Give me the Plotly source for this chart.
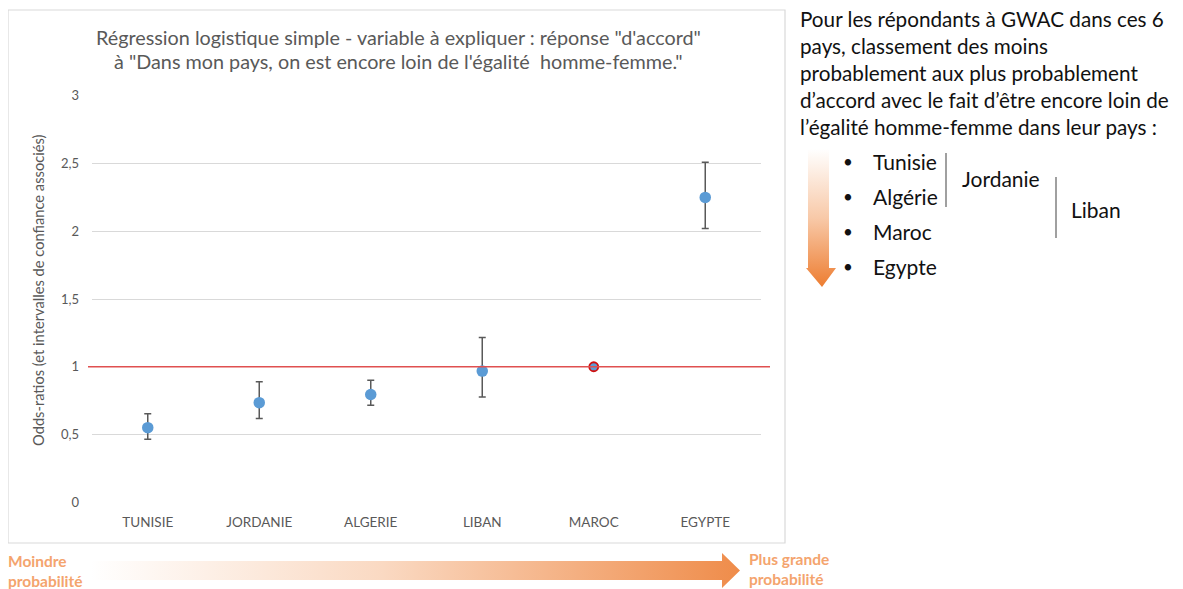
import base64
import plotly.graph_objects as go

# ---- data ----
categories = ["TUNISIE", "JORDANIE", "ALGERIE", "LIBAN", "MAROC", "EGYPTE"]
odds_ratio = [0.55, 0.735, 0.795, 0.968, 1.0, 2.25]
ci_low = [0.465, 0.617, 0.715, 0.776, None, 2.02]
ci_high = [0.653, 0.889, 0.900, 1.215, None, 2.51]
reference_cat = "MAROC"
y_tickvals = [0, 0.5, 1, 1.5, 2, 2.5, 3]
y_ticktext = ["0", "0,5", "1", "1,5", "2", "2,5", "3"]
ranking = ["Tunisie", "Algérie", "Maroc", "Egypte"]
explain_lines = [
    "Pour les répondants à GWAC dans ces 6",
    "pays, classement des moins",
    "probablement aux plus probablement",
    "d’accord avec le fait d’être encore loin de",
    "l’égalité homme-femme dans leur pays :",
]
title_lines = [
    "Régression logistique simple - variable à expliquer : réponse \"d'accord\"",
    "à \"Dans mon pays, on est encore loin de l'égalité  homme-femme.\"",
]

# ---- geometry helpers (window pixel -> paper); page body has an 8px margin ----
OFF = 8
W, H = 1183 - OFF, 589 - OFF
L, R, T, B = 92, 761, 95, 503
def px(x):
    return (x - L) / (R - L)
def py(y):
    return (B - y) / (B - T)

FONT = "Lato"
GRAY = "#595959"
BLUE = "#5B9BD5"
INK = "#111111"

fig = go.Figure()

main_idx = [i for i, c in enumerate(categories) if c != reference_cat]
fig.add_trace(go.Scatter(
    x=[categories[i] for i in main_idx],
    y=[odds_ratio[i] for i in main_idx],
    mode="markers",
    marker=dict(color=BLUE, size=11.5),
    error_y=dict(type="data", symmetric=False,
                 array=[ci_high[i] - odds_ratio[i] for i in main_idx],
                 arrayminus=[odds_ratio[i] - ci_low[i] for i in main_idx],
                 color=GRAY, thickness=1.5, width=3.5),
    showlegend=False, hoverinfo="x+y",
))
ref_i = categories.index(reference_cat)
fig.add_trace(go.Scatter(
    x=[categories[ref_i]], y=[odds_ratio[ref_i]], mode="markers",
    marker=dict(color=BLUE, size=9, line=dict(color="#D01010", width=1.8)),
    showlegend=False,
))

# reference line at OR = 1
fig.add_shape(type="line", xref="paper", yref="y", x0=px(88), x1=px(770), y0=1, y1=1,
              line=dict(color="#E05050", width=1.3), layer="above")

# chart border
fig.add_shape(type="rect", xref="paper", yref="paper",
              x0=px(8), x1=px(785), y0=py(543), y1=py(10),
              line=dict(color="#D9D9D9", width=1.2))

# title
for i, t in enumerate(title_lines):
    fig.add_annotation(xref="paper", yref="paper", x=px(398), y=py(37 + i * 24),
                       text=t, showarrow=False, xanchor="center", yanchor="middle",
                       font=dict(family=FONT, size=19.8, color=GRAY))

# y axis title
fig.add_annotation(xref="paper", yref="paper", x=px(38), y=py(290),
                   text="Odds-ratios (et intervalles de confiance associés)",
                   textangle=-90, showarrow=False, xanchor="center", yanchor="middle",
                   font=dict(family=FONT, size=14.7, color=GRAY))

# right explanatory text
for i, t in enumerate(explain_lines):
    fig.add_annotation(xref="paper", yref="paper", x=px(798), y=py(19 + i * 27),
                       text=t, showarrow=False, xanchor="left", yanchor="middle",
                       font=dict(family=FONT, size=20.7, color=INK))
for i, t in enumerate(ranking):
    yy = 161 + i * 35
    fig.add_annotation(xref="paper", yref="paper", x=px(848), y=py(yy),
                       text="•", showarrow=False, xanchor="center", yanchor="middle",
                       font=dict(family=FONT, size=17, color=INK))
    fig.add_annotation(xref="paper", yref="paper", x=px(871), y=py(yy),
                       text=t, showarrow=False, xanchor="left", yanchor="middle",
                       font=dict(family=FONT, size=21, color=INK))
fig.add_annotation(xref="paper", yref="paper", x=px(960), y=py(178),
                   text="Jordanie", showarrow=False, xanchor="left", yanchor="middle",
                   font=dict(family=FONT, size=21, color=INK))
fig.add_annotation(xref="paper", yref="paper", x=px(1069), y=py(209),
                   text="Liban", showarrow=False, xanchor="left", yanchor="middle",
                   font=dict(family=FONT, size=21, color=INK))
fig.add_shape(type="line", xref="paper", yref="paper", x0=px(946), x1=px(946),
              y0=py(153), y1=py(207), line=dict(color="#808080", width=1.5))
fig.add_shape(type="line", xref="paper", yref="paper", x0=px(1056), x1=px(1056),
              y0=py(177), y1=py(238), line=dict(color="#808080", width=1.5))

# bottom labels
fig.add_annotation(xref="paper", yref="paper", x=px(6), y=py(571),
                   text="<b>Moindre<br>probabilité</b>", showarrow=False,
                   xanchor="left", yanchor="middle", align="left",
                   font=dict(family=FONT, size=15.5, color="#F4A46E"))
fig.add_annotation(xref="paper", yref="paper", x=px(747), y=py(569),
                   text="<b>Plus grande<br>probabilité</b>", showarrow=False,
                   xanchor="left", yanchor="middle", align="left",
                   font=dict(family=FONT, size=15.5, color="#F4A46E"))

# gradient arrows (SVG images)
def svg_uri(svg):
    return "data:image/svg+xml;base64," + base64.b64encode(svg.encode()).decode()

v_svg = ('<svg xmlns="http://www.w3.org/2000/svg" width="30" height="138" viewBox="0 0 30 138">'
         '<defs><linearGradient id="g" x1="0" y1="0" x2="0" y2="1">'
         '<stop offset="0" stop-color="#FFFFFF"/><stop offset="0.5" stop-color="#F8C9A8"/>'
         '<stop offset="1" stop-color="#ED7D31"/></linearGradient></defs>'
         '<polygon points="2,0 23,0 23,119 30,119 16,138 0,119 2,119" fill="url(#g)"/></svg>')
h_svg = ('<svg xmlns="http://www.w3.org/2000/svg" width="650" height="35" viewBox="0 0 650 35">'
         '<defs><linearGradient id="g" x1="0" y1="0" x2="1" y2="0">'
         '<stop offset="0" stop-color="#FFFFFF"/><stop offset="0.45" stop-color="#FAD9C2"/>'
         '<stop offset="1" stop-color="#EF8C4A"/></linearGradient></defs>'
         '<polygon points="0,8 632,8 632,0 650,17.5 632,35 632,27 0,27" fill="url(#g)"/></svg>')
fig.add_layout_image(source=svg_uri(v_svg), xref="paper", yref="paper",
                     x=px(806), y=py(149), sizex=30 / (R - L), sizey=138 / (B - T),
                     xanchor="left", yanchor="top", sizing="stretch", layer="above")
fig.add_layout_image(source=svg_uri(h_svg), xref="paper", yref="paper",
                     x=px(90), y=py(553), sizex=650 / (R - L), sizey=35 / (B - T),
                     xanchor="left", yanchor="top", sizing="stretch", layer="above")

fig.update_layout(
    width=W, height=H,
    margin=dict(l=L - OFF, r=(W + OFF) - R, t=T - OFF, b=(H + OFF) - B),
    paper_bgcolor="white", plot_bgcolor="white",
    font=dict(family=FONT, color=GRAY),
    xaxis=dict(type="category", categoryorder="array", categoryarray=categories,
               range=[-0.5, 5.5], showgrid=False, zeroline=False, showline=False,
               ticks="", ticklabelstandoff=9,
               tickfont=dict(family=FONT, size=13.5, color=GRAY)),
    yaxis=dict(range=[-0.006, 3.006], tickvals=y_tickvals, ticktext=y_ticktext,
               showgrid=True, gridcolor="#D9D9D9", gridwidth=1, zeroline=False,
               showline=False, ticks="", ticklabelstandoff=12,
               tickfont=dict(family=FONT, size=13, color=GRAY)),
)

fig.write_html("out.html")
